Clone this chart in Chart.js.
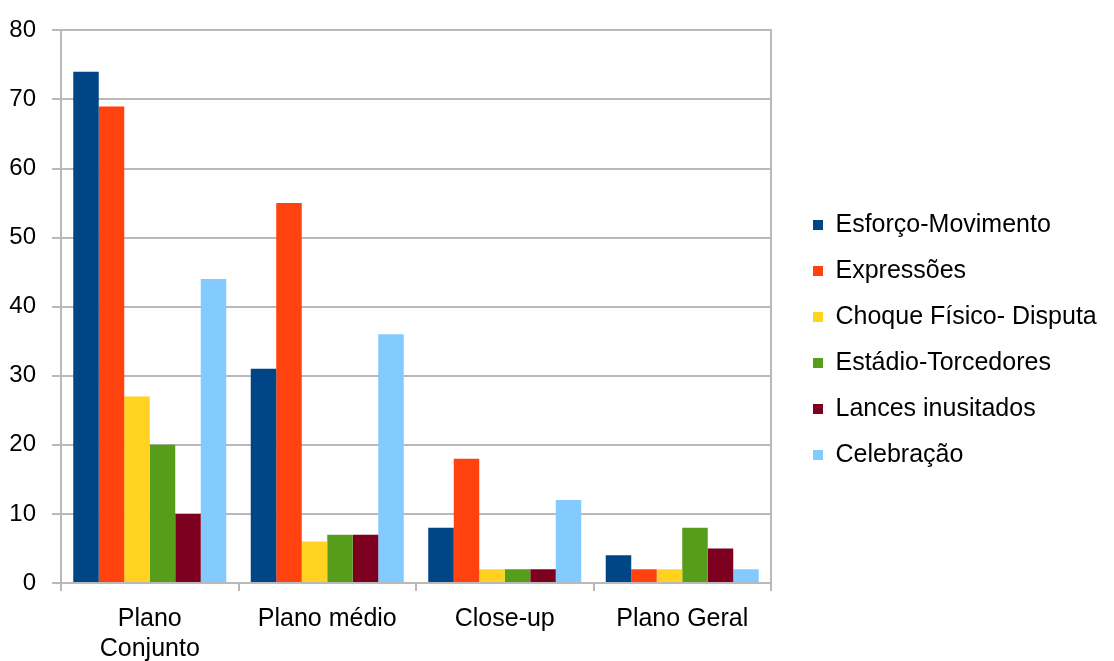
<!DOCTYPE html>
<html><head><meta charset="utf-8">
<script src="https://cdn.jsdelivr.net/npm/chart.js@4/dist/chart.umd.min.js"></script>
<style>html,body{margin:0;padding:0;background:#fff;overflow:hidden}canvas{display:block}</style>
</head><body>
<canvas id="c" width="1114" height="661"></canvas>
<script>
const categories = [['Plano', 'Conjunto'], 'Plano médio', 'Close-up', 'Plano Geral'];
const seriesNames = ['Esforço-Movimento', 'Expressões', 'Choque Físico- Disputa', 'Estádio-Torcedores', 'Lances inusitados', 'Celebração'];
const esforcoMovimento = [74, 31, 8, 4];
const expressoes = [69, 55, 18, 2];
const choqueFisico = [27, 6, 2, 2];
const estadioTorcedores = [20, 7, 2, 8];
const lancesInusitados = [10, 7, 2, 5];
const celebracao = [44, 36, 12, 2];
const seriesColors = ['#004586', '#ff420e', '#ffd320', '#579d1c', '#7e0021', '#83caff'];
const yMin = 0, yMax = 80, yStep = 10;

const seriesValues = [esforcoMovimento, expressoes, choqueFisico, estadioTorcedores, lancesInusitados, celebracao];
const FONT = '"Liberation Sans", Arial, sans-serif';
const GRID = '#b9b9b9';

const legendWidthPlugin = {
  id: 'legendWidth',
  beforeLayout(chart) {
    const lg = chart.legend;
    if (lg && !lg._patched) {
      const orig = lg.fit.bind(lg);
      lg.fit = function () {
        orig();
        this.width = 322;
        if (this.columnSizes && this.columnSizes[0]) this.columnSizes[0].height += 8;
      };
      lg._patched = true;
    }
  }
};

new Chart(document.getElementById('c'), {
  type: 'bar',
  data: {
    labels: categories,
    datasets: seriesNames.map((name, i) => ({
      label: name,
      data: seriesValues[i],
      backgroundColor: seriesColors[i],
      borderWidth: 0,
      barPercentage: 1,
      categoryPercentage: 0.862
    }))
  },
  options: {
    responsive: false,
    animation: false,
    devicePixelRatio: 1,
    layout: { padding: { top: 27, bottom: 0, left: 0, right: 0 } },
    plugins: {
      legend: {
        position: 'right',
        align: 'center',
        labels: {
          boxWidth: 10, boxHeight: 10, padding: 21,
          color: '#000',
          font: { family: FONT, size: 25 }
        }
      },
      tooltip: { enabled: false }
    },
    scales: {
      x: {
        grid: { offset: true, drawOnChartArea: false, drawTicks: true, tickLength: 8, color: GRID, lineWidth: 2 },
        border: { display: true, color: GRID, width: 2 },
        ticks: { color: '#000', font: { family: FONT, size: 25, lineHeight: 1.2 }, padding: 13, maxRotation: 0, autoSkip: false },
        afterFit(s) { s.height = 78; }
      },
      y: {
        min: yMin, max: yMax,
        ticks: { stepSize: yStep, color: '#000', font: { family: FONT, size: 24 }, padding: 16 },
        grid: { color: GRID, lineWidth: 2, tickLength: 9 },
        border: { display: true, color: GRID, width: 2 },
        afterFit(s) { s.width = 61; }
      },
      y2: {
        position: 'right',
        min: yMin, max: yMax,
        ticks: { display: false },
        grid: { display: false, drawTicks: false },
        border: { display: true, color: GRID, width: 2 },
        afterFit(s) { s.width = 21; }
      }
    }
  },
  plugins: [legendWidthPlugin]
});
</script>
</body></html>
